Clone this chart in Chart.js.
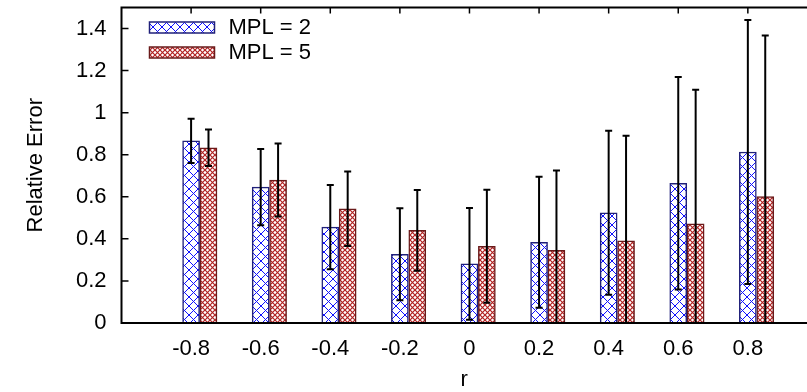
<!DOCTYPE html>
<html>
<head>
<meta charset="utf-8">
<title>Relative Error vs r</title>
<script src="https://cdn.jsdelivr.net/npm/chart.js@4.4.1/dist/chart.umd.min.js"></script>
<style>
html, body { margin: 0; padding: 0; background: #fff; }
</style>
</head>
<body>
<canvas id="myChart" width="807" height="392"></canvas>
<script>
'use strict'
//////////////////
//Data
/////////////////
const rValues = [-0.8, -0.6, -0.4, -0.2, 0, 0.2, 0.4, 0.6, 0.8];
const mpl2Mean = [0.866, 0.646, 0.456, 0.327, 0.281, 0.384, 0.524, 0.664, 0.813];
const mpl2Dev = [0.105, 0.181, 0.200, 0.219, 0.266, 0.311, 0.390, 0.505, 0.627];
const mpl5Mean = [0.833, 0.680, 0.543, 0.440, 0.365, 0.346, 0.391, 0.472, 0.601];
const mpl5Dev = [0.087, 0.174, 0.177, 0.192, 0.269, 0.379, 0.499, 0.637, 0.766];
const yTicks = [0, 0.2, 0.4, 0.6, 0.8, 1, 1.2, 1.4];
const seriesLabels = ['MPL = 2', 'MPL = 5'];
// second series sits just right of the first one
const mpl5Shift = 0.05;

const fontFamily = '"Liberation Sans", Arial, Helvetica, sans-serif';
const fontSize = 22;

/////////////////////////
//Functions
////////////////////////
//crosshatch fill like the gnuplot patterns
function makeHatch(size, color, lineWidth){
    const c = document.createElement('canvas');
    c.width = size;
    c.height = size;
    const ctx = c.getContext('2d');
    ctx.fillStyle = '#fff';
    ctx.fillRect(0, 0, size, size);
    ctx.strokeStyle = color;
    ctx.lineWidth = lineWidth;
    ctx.beginPath();
    ctx.moveTo(-1, -1); ctx.lineTo(size + 1, size + 1);
    ctx.moveTo(size + 1, -1); ctx.lineTo(-1, size + 1);
    ctx.stroke();
    return ctx.createPattern(c, 'repeat');
}

function toPoints(xs, ys, shift){
    return xs.map((x, i) => ({ x: x + shift, y: ys[i] }));
}

function tickText(value){
    return String(+value.toFixed(1));
}

const blueHatch = makeHatch(9, '#1010ff', 1);
const redHatch = makeHatch(5, '#b22222', 1.2);

//error bars, axes frame and legend
const framePlugin = {
    id: 'frame',
    beforeDatasetsDraw(chart){
        const ctx = chart.ctx;
        const area = chart.chartArea;
        const xs = chart.scales.x;
        ctx.save();
        ctx.strokeStyle = '#000';
        ctx.lineWidth = 1.5;
        ctx.beginPath();
        for (let r of rValues){
            const px = xs.getPixelForValue(r);
            ctx.moveTo(px, area.bottom);
            ctx.lineTo(px, area.bottom - 6);
        }
        ctx.stroke();
        ctx.restore();
    },
    afterDatasetsDraw(chart){
        const ctx = chart.ctx;
        const area = chart.chartArea;
        const xs = chart.scales.x;
        const ys = chart.scales.y;

        ctx.save();
        ctx.beginPath();
        ctx.rect(area.left, area.top, area.right - area.left, area.bottom - area.top);
        ctx.clip();
        ctx.strokeStyle = '#000';
        ctx.lineWidth = 2;
        chart.data.datasets.forEach(ds => {
            ds.data.forEach((pt, i) => {
                const px = xs.getPixelForValue(pt.x);
                const hi = ys.getPixelForValue(pt.y + ds.dev[i]);
                const lo = ys.getPixelForValue(pt.y - ds.dev[i]);
                ctx.beginPath();
                ctx.moveTo(px, hi);
                ctx.lineTo(px, lo);
                ctx.moveTo(px - 3.5, hi);
                ctx.lineTo(px + 3.5, hi);
                ctx.moveTo(px - 3.5, lo);
                ctx.lineTo(px + 3.5, lo);
                ctx.stroke();
            });
        });
        ctx.restore();

        ctx.save();
        ctx.strokeStyle = '#000';
        ctx.lineWidth = 2;
        ctx.beginPath();
        ctx.moveTo(area.right, area.top);
        ctx.lineTo(area.left, area.top);
        ctx.lineTo(area.left, area.bottom);
        ctx.lineTo(area.right, area.bottom);
        ctx.stroke();
        ctx.lineWidth = 1.5;
        ctx.beginPath();
        for (let v of yTicks){
            const py = ys.getPixelForValue(v);
            ctx.moveTo(area.left, py);
            ctx.lineTo(area.left + 7, py);
        }
        for (let r of rValues){
            const px = xs.getPixelForValue(r);
            ctx.moveTo(px, area.top);
            ctx.lineTo(px, area.top + 6);
        }
        ctx.stroke();
        ctx.restore();
    },
    afterDraw(chart){
        const ctx = chart.ctx;
        const area = chart.chartArea;
        ctx.save();
        ctx.font = fontSize + 'px ' + fontFamily;
        ctx.textBaseline = 'middle';
        chart.data.datasets.forEach((ds, i) => {
            const bx = area.left + 28;
            const by = area.top + 14.5 + i * 25;
            ctx.fillStyle = ds.backgroundColor;
            ctx.fillRect(bx, by, 65, 11);
            ctx.strokeStyle = ds.borderColor;
            ctx.lineWidth = 1.5;
            ctx.strokeRect(bx, by, 65, 11);
            ctx.fillStyle = '#000';
            ctx.fillText(ds.label, bx + 79, by + 6);
        });
        ctx.restore();
    }
};

function renderChart(){
    const data = {
        datasets: [{
            label: seriesLabels[0],
            data: toPoints(rValues, mpl2Mean, 0),
            dev: mpl2Dev,
            backgroundColor: blueHatch,
            borderColor: '#20207a',
            borderWidth: 1.5,
            barThickness: 17,
            grouped: false
        },
        {
            label: seriesLabels[1],
            data: toPoints(rValues, mpl5Mean, mpl5Shift),
            dev: mpl5Dev,
            backgroundColor: redHatch,
            borderColor: '#6a1a1a',
            borderWidth: 1.5,
            barThickness: 17,
            grouped: false
        }]
    };

    const tickFont = { family: fontFamily, size: fontSize };

    const config = {
        type: 'bar',
        data: data,
        options: {
            responsive: false,
            animation: false,
            devicePixelRatio: 1,
            layout: { padding: { top: 7.5, right: 0, left: 0, bottom: 0 } },
            plugins: {
                legend: { display: false },
                tooltip: { enabled: false }
            },
            scales: {
                x: {
                    type: 'linear',
                    min: -1,
                    max: 0.97,
                    offset: false,
                    grid: { display: false, drawTicks: false },
                    border: { display: false },
                    afterBuildTicks: s => { s.ticks = rValues.map(v => ({ value: v })); },
                    afterFit: s => { s.height = 69; },
                    ticks: { color: '#000', font: tickFont, padding: 13, maxRotation: 0, autoSkip: false, callback: tickText },
                    title: { display: true, text: 'r', color: '#000', font: tickFont, padding: { top: 0, bottom: -1 } }
                },
                y: {
                    min: 0,
                    max: 1.5,
                    grid: { display: false, drawTicks: false },
                    border: { display: false },
                    afterBuildTicks: s => { s.ticks = yTicks.map(v => ({ value: v })); },
                    afterFit: s => {
                        s.width = 121.5;
                        s.paddingTop = 0;
                        s.paddingBottom = 0;
                    },
                    ticks: { color: '#000', font: tickFont, padding: 15, callback: tickText },
                    title: { display: true, text: 'Relative Error', color: '#000', font: tickFont, padding: { top: 23, bottom: 0 } }
                }
            }
        },
        plugins: [framePlugin]
    };
    const canvasChart = document.getElementById('myChart');
    const myChart = new Chart(canvasChart, config);
}

renderChart();
</script>
</body>
</html>
